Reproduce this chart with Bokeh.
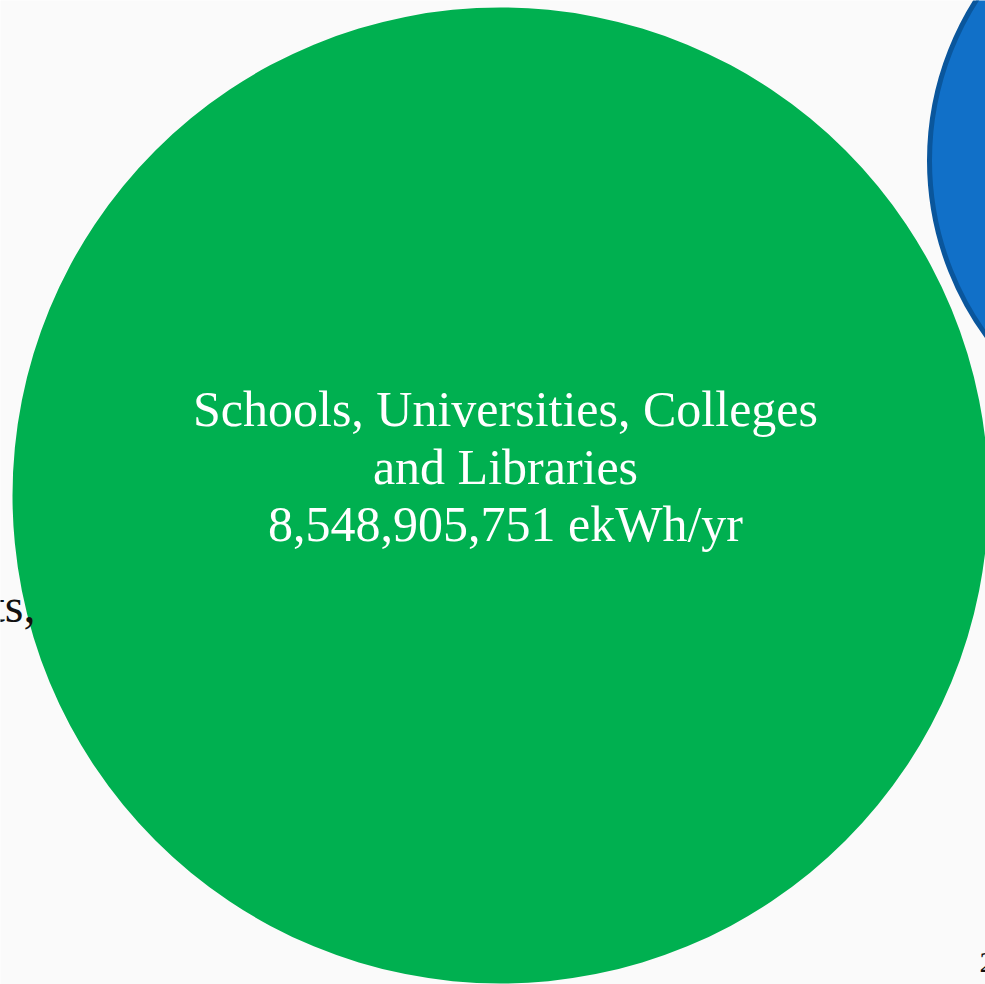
from bokeh.plotting import figure
from bokeh.models import Range1d, ColumnDataSource
from bokeh.core.properties import value
from bokeh.embed import file_html
from bokeh.resources import INLINE
import math

# Data
categories = ["Schools, Universities, Colleges and Libraries", "Other sector"]
energy_ekwh = [8548905751, 3200000000]
label_lines = ["Schools, Universities, Colleges", "and Libraries", "8,548,905,751 ekWh/yr"]
side_label = "Restaurants,"
page_number = "2"

W, H = 985, 984
p = figure(width=W, height=H, output_backend="svg", toolbar_location=None,
           x_range=Range1d(0, W), y_range=Range1d(H, 0), min_border=0)
p.axis.visible = False
p.grid.visible = False
p.outline_line_color = None
p.background_fill_color = "#fafafa"
p.border_fill_color = "#fafafa"

# radius scaled by sqrt of value
k = 488 / math.sqrt(energy_ekwh[0])
radii = [k * math.sqrt(v) for v in energy_ekwh]
cx = [500, 929 + radii[1]]
cy = [495, 160]
src = ColumnDataSource(dict(x=cx, y=cy, r=radii,
                            fill=["#00b050", "#1170c8"],
                            line=["#00b050", "#0a569c"],
                            lw=[0, 5]))
p.circle(x="x", y="y", radius="r", fill_color="fill", line_color="line",
         line_width="lw", source=src)

font = value("Liberation Serif")
p.text(x=[505] * 3, y=[408, 466, 523], text=label_lines, text_color="white",
       text_font=font, text_font_size="50px", text_align="center",
       text_baseline="alphabetic")

p.text(x=[35], y=[605], text=[side_label], text_color="#111111", text_font=font,
       text_font_size="48px", text_align="right", text_baseline="alphabetic")
p.text(x=[979], y=[962], text=[page_number], text_color="#111111", text_font=font,
       text_font_size="30px", text_align="left", text_baseline="alphabetic")

open("out.html", "w").write(file_html(p, INLINE))
